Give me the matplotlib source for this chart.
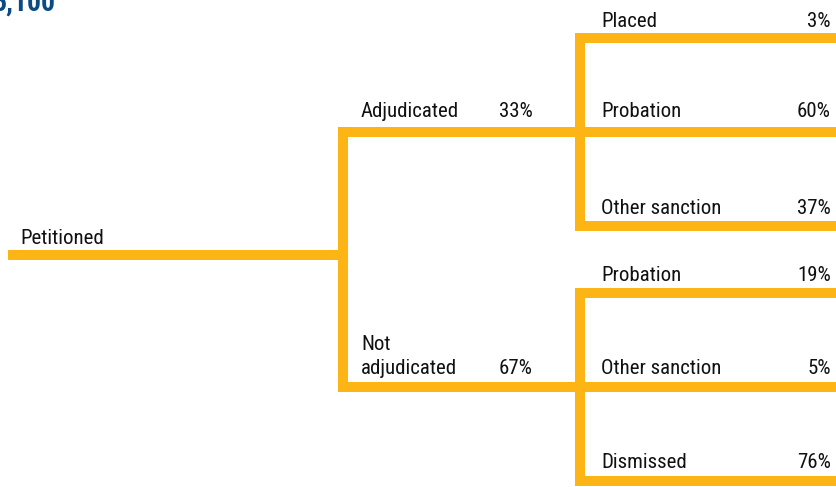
import matplotlib
matplotlib.use("Agg")
import matplotlib.pyplot as plt

# ---- data ----
root_label = "Petitioned"
total_label = "5,100"
level1_labels = ["Adjudicated", "Not\nadjudicated"]
level1_pcts = ["33%", "67%"]
adj_labels = ["Placed", "Probation", "Other sanction"]
adj_pcts = ["3%", "60%", "37%"]
notadj_labels = ["Probation", "Other sanction", "Dismissed"]
notadj_pcts = ["19%", "5%", "76%"]

# ---- style / layout ----
W, H = 837, 487
DPI = 100
GOLD = "#FDB515"
TXT = "#111111"
BLUE = "#0B4A82"
LW = 10 * 72 / DPI

plt.rcParams["font.family"] = ["Roboto Condensed", "DejaVu Sans"]

fig = plt.figure(figsize=(W / DPI, H / DPI), dpi=DPI)
ax = fig.add_axes([0, 0, 1, 1])
ax.set_xlim(0, W)
ax.set_ylim(H, 0)
ax.axis("off")

def line(xs, ys):
    ax.plot(xs, ys, color=GOLD, lw=LW, solid_capstyle="butt", solid_joinstyle="miter")

# layout
x0, x1, x2, xr = 8, 343, 580, W
y_root = 255
y_l1 = [132, 387]
y_l2 = [[38, 132, 226], [293, 387, 481]]
off_root = 11
off_l1 = [15, 13]
off_l2 = [[11, 15, 12], [12, 13, 13]]
FS = 15

# root
line([x0, x1], [y_root, y_root])
ax.text(20, y_root - off_root, root_label, fontsize=FS, color=TXT, ha="left", va="baseline")

# level 1
line([x2, x1, x1, x2], [y_l1[0], y_l1[0], y_l1[1], y_l1[1]])
for lab, pct, y, o in zip(level1_labels, level1_pcts, y_l1, off_l1):
    ax.text(361, y - o, lab, fontsize=FS, color=TXT, ha="left", va="baseline", linespacing=1.35)
    ax.text(533, y - o, pct, fontsize=FS, color=TXT, ha="right", va="baseline")

# level 2
for labs, pcts, ys, offs in [(adj_labels, adj_pcts, y_l2[0], off_l2[0]),
                             (notadj_labels, notadj_pcts, y_l2[1], off_l2[1])]:
    line([xr, x2, x2, xr], [ys[0], ys[0], ys[2], ys[2]])
    line([x2, xr], [ys[1], ys[1]])
    for lab, pct, y, o in zip(labs, pcts, ys, offs):
        ax.text(601, y - o, lab, fontsize=FS, color=TXT, ha="left", va="baseline")
        ax.text(831, y - o, pct, fontsize=FS, color=TXT, ha="right", va="baseline")

# cut-off title number
ax.text(56, 11, total_label, fontsize=20, fontweight="bold", color=BLUE, ha="right", va="baseline")

fig.savefig("out.png", dpi=DPI)
